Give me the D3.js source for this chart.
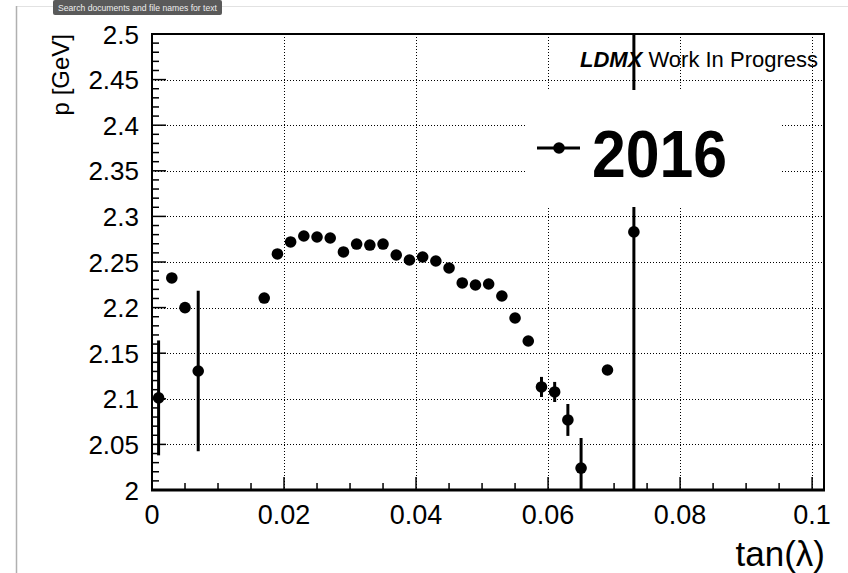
<!DOCTYPE html>
<html>
<head>
<meta charset="utf-8">
<script src="https://cdn.jsdelivr.net/npm/d3@7"></script>
<style>
  html, body { margin: 0; padding: 0; background: #fff; }
  svg { display: block; font-family: "Liberation Sans", Arial, Helvetica, sans-serif; }
</style>
</head>
<body>
<svg id="chart" width="848" height="573"></svg>
<script>
// Mean track momentum per tan(lambda) bin, with statistical error
const tanLambda = [0.001, 0.003, 0.005, 0.007, 0.017, 0.019, 0.021, 0.023, 0.025, 0.027,
                   0.029, 0.031, 0.033, 0.035, 0.037, 0.039, 0.041, 0.043, 0.045, 0.047,
                   0.049, 0.051, 0.053, 0.055, 0.057, 0.059, 0.061, 0.063, 0.065, 0.069, 0.073];
const momentum  = [2.101, 2.2325, 2.200, 2.1305, 2.2105, 2.2588, 2.272, 2.2785, 2.2774, 2.2763,
                   2.261, 2.2697, 2.2686, 2.2697, 2.2577, 2.2522, 2.2555, 2.2511, 2.2434, 2.227,
                   2.2248, 2.2259, 2.2127, 2.1886, 2.1634, 2.113, 2.1075, 2.0768, 2.024, 2.1316, 2.283];
const momentumErr = [0.063, 0.004, 0.004, 0.088, 0.003, 0.003, 0.003, 0.003, 0.003, 0.003,
                     0.003, 0.003, 0.003, 0.003, 0.003, 0.003, 0.003, 0.003, 0.003, 0.003,
                     0.003, 0.003, 0.003, 0.004, 0.004, 0.011, 0.011, 0.0175, 0.033, 0.004, 0.32];

const xTickValues = [0, 0.02, 0.04, 0.06, 0.08, 0.1];
const xTickLabels = ["0", "0.02", "0.04", "0.06", "0.08", "0.1"];
const yTickValues = [2, 2.05, 2.1, 2.15, 2.2, 2.25, 2.3, 2.35, 2.4, 2.45, 2.5];
const yTickLabels = ["2", "2.05", "2.1", "2.15", "2.2", "2.25", "2.3", "2.35", "2.4", "2.45", "2.5"];
const xMinorStep = 0.005;
const yMinorStep = 0.01;

const legendLabel = "2016";
const xTitle = "tan(λ)";
const yTitle = "p [GeV]";

const svg = d3.select("#chart");
const frame = { left: 152, right: 824, top: 34, bottom: 490 };

const x = d3.scaleLinear().domain([0, 0.1018]).range([frame.left, frame.right]);
const y = d3.scaleLinear().domain([2, 2.5]).range([frame.bottom, frame.top]);

// viewer chrome: page edge and search tooltip
svg.append("line").attr("x1", 16).attr("x2", 848).attr("y1", 6.5).attr("y2", 6.5)
  .attr("stroke", "#e2e2e2").attr("stroke-width", 1);
svg.append("line").attr("x1", 16.5).attr("x2", 16.5).attr("y1", 6).attr("y2", 573)
  .attr("stroke", "#b0b0b0").attr("stroke-width", 1.5);
svg.append("rect").attr("x", 53).attr("y", 0).attr("width", 169).attr("height", 15)
  .attr("rx", 2).attr("fill", "#5a5a5a");
svg.append("text").attr("x", 58).attr("y", 11)
  .attr("font-size", 9).attr("fill", "#eeeeee")
  .attr("textLength", 159).attr("lengthAdjust", "spacingAndGlyphs")
  .text("Search documents and file names for text");

// dotted grid at major ticks
const grid = svg.append("g").attr("stroke", "#000").attr("stroke-width", 1)
  .attr("stroke-dasharray", "1,2");
grid.selectAll(".gx").data(xTickValues.slice(1)).join("line")
  .attr("x1", d => Math.round(x(d)) + 0.5).attr("x2", d => Math.round(x(d)) + 0.5)
  .attr("y1", frame.top).attr("y2", frame.bottom);
grid.selectAll(".gy").data(yTickValues.slice(1, -1)).join("line")
  .attr("x1", frame.left).attr("x2", frame.right)
  .attr("y1", d => Math.round(y(d)) + 0.5).attr("y2", d => Math.round(y(d)) + 0.5);

// header text
const hdr = svg.append("text").attr("x", 818).attr("y", 67).attr("text-anchor", "end")
  .attr("font-size", 22);
hdr.append("tspan").attr("font-weight", "bold").attr("font-style", "italic").text("LDMX");
hdr.append("tspan").text(" Work In Progress");

// data: error bars and markers
svg.append("clipPath").attr("id", "frameClip").append("rect")
  .attr("x", frame.left).attr("y", frame.top)
  .attr("width", frame.right - frame.left).attr("height", frame.bottom - frame.top);

const pts = tanLambda.map((t, i) => ({ t, p: momentum[i], e: momentumErr[i] }));
const g = svg.append("g").attr("clip-path", "url(#frameClip)");
g.selectAll(".err").data(pts).join("line")
  .attr("x1", d => x(d.t)).attr("x2", d => x(d.t))
  .attr("y1", d => y(d.p + d.e)).attr("y2", d => y(d.p - d.e))
  .attr("stroke", "#000").attr("stroke-width", 3);
g.selectAll(".pt").data(pts).join("circle")
  .attr("cx", d => x(d.t)).attr("cy", d => y(d.p)).attr("r", 5.8).attr("fill", "#000");

// legend box (white fill covers what lies behind it)
const leg = { x: 527, y: 90, w: 255, h: 117 };
svg.append("rect").attr("x", leg.x).attr("y", leg.y).attr("width", leg.w).attr("height", leg.h)
  .attr("fill", "#fff");
svg.append("line").attr("x1", 537).attr("x2", 580).attr("y1", 148).attr("y2", 148)
  .attr("stroke", "#000").attr("stroke-width", 3);
svg.append("circle").attr("cx", 559).attr("cy", 148).attr("r", 5.8).attr("fill", "#000");
svg.append("text").attr("x", 592).attr("y", 177).attr("font-size", 66).attr("font-weight", "bold")
  .attr("textLength", 135).attr("lengthAdjust", "spacingAndGlyphs").text(legendLabel);

// frame
svg.append("rect").attr("x", frame.left).attr("y", frame.top)
  .attr("width", frame.right - frame.left).attr("height", frame.bottom - frame.top)
  .attr("fill", "none").attr("stroke", "#000").attr("stroke-width", 2);
svg.append("line").attr("x1", frame.left - 1).attr("x2", frame.right + 1)
  .attr("y1", frame.bottom).attr("y2", frame.bottom).attr("stroke", "#000").attr("stroke-width", 3);

// ticks
const ticks = svg.append("g").attr("stroke", "#000").attr("stroke-width", 1.5);
const xMinor = d3.range(0, 0.1018, xMinorStep);
ticks.selectAll(".xt").data(xMinor).join("line")
  .attr("x1", d => x(d)).attr("x2", d => x(d))
  .attr("y1", frame.bottom)
  .attr("y2", d => frame.bottom - (Math.abs(d / 0.02 - Math.round(d / 0.02)) < 1e-6 ? 13 : 7));
const yMinor = d3.range(2, 2.5001, yMinorStep);
ticks.selectAll(".yt").data(yMinor).join("line")
  .attr("y1", d => y(d)).attr("y2", d => y(d))
  .attr("x1", frame.left)
  .attr("x2", d => frame.left + (Math.abs(d / 0.05 - Math.round(d / 0.05)) < 1e-6 ? 14 : 7));

// tick labels
svg.selectAll(".xl").data(xTickValues).join("text")
  .attr("x", d => x(d)).attr("y", 524).attr("text-anchor", "middle")
  .attr("font-size", 27).text((d, i) => xTickLabels[i]);
svg.selectAll(".yl").data(yTickValues).join("text")
  .attr("x", 139).attr("y", d => y(d) + 9.5).attr("text-anchor", "end")
  .attr("font-size", 26).text((d, i) => yTickLabels[i]);

// axis titles
svg.append("text").attr("x", 825).attr("y", 566).attr("text-anchor", "end")
  .attr("font-size", 35).text(xTitle);
svg.append("text").attr("transform", "translate(69,34) rotate(-90)")
  .attr("text-anchor", "end").attr("font-size", 24).text(yTitle);
</script>
</body>
</html>
